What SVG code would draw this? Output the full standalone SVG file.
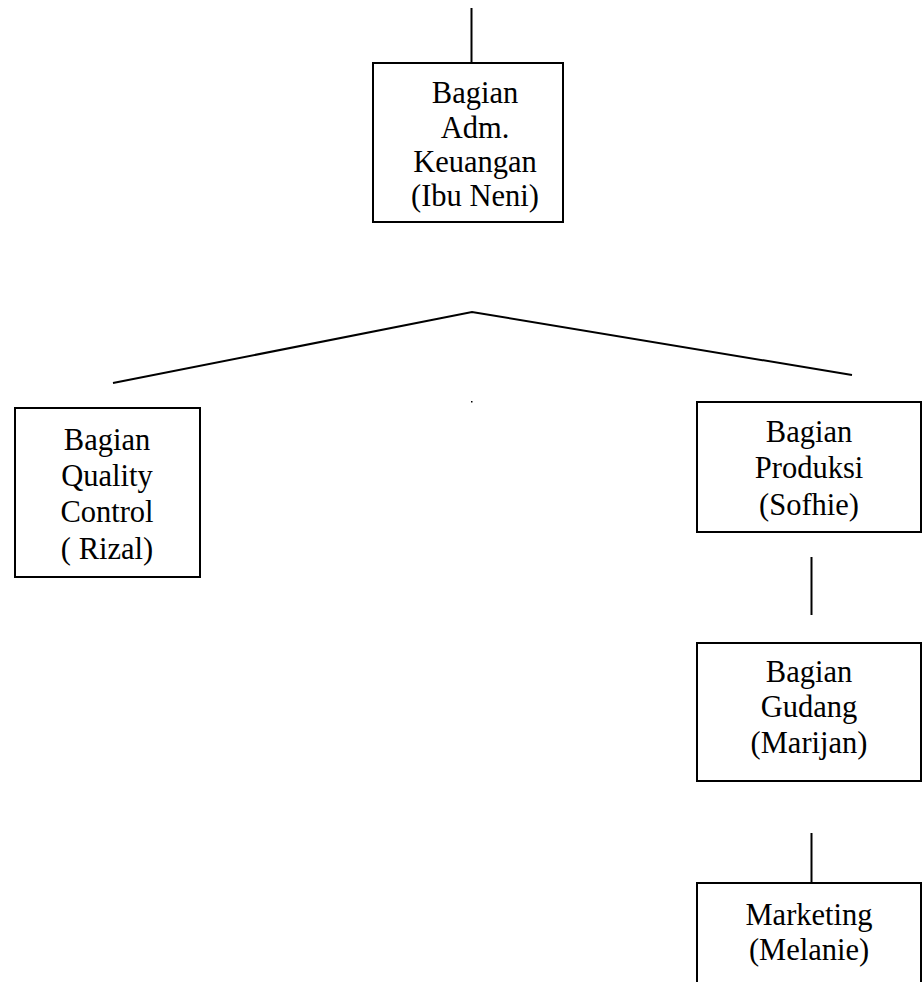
<svg xmlns="http://www.w3.org/2000/svg" width="922" height="982" viewBox="0 0 922 982">
<style>
.box{fill:#fff;stroke:#000;stroke-width:2}
.ln{stroke:#000;stroke-width:2;fill:none}
text{font-family:"Liberation Serif","Times New Roman",serif;font-size:30.5px;fill:#000;text-anchor:middle}
</style>
<rect width="922" height="982" fill="#fff"/>
<g id="connectors">
<line class="ln" x1="471.5" y1="8" x2="471.5" y2="63"/>
<polyline class="ln" points="113,383 472,312 852,375"/>
<rect x="471" y="401" width="1.5" height="1.5" fill="#000"/>
<line class="ln" x1="811.5" y1="557" x2="811.5" y2="615"/>
<line class="ln" x1="811.5" y1="833" x2="811.5" y2="883"/>
</g>
<g id="keuangan">
<rect class="box" x="373" y="63" width="190" height="159"/>
<text x="475" y="103">Bagian</text>
<text x="475" y="138">Adm.</text>
<text x="475" y="172">Keuangan</text>
<text x="475" y="206">(Ibu Neni)</text>
</g>
<g id="qc">
<rect class="box" x="15" y="408" width="185" height="169"/>
<text x="107" y="450">Bagian</text>
<text x="107" y="486">Quality</text>
<text x="107" y="522">Control</text>
<text x="107" y="559">( Rizal)</text>
</g>
<g id="produksi">
<rect class="box" x="697" y="402" width="224" height="130"/>
<text x="809" y="442">Bagian</text>
<text x="809" y="478">Produksi</text>
<text x="809" y="515">(Sofhie)</text>
</g>
<g id="gudang">
<rect class="box" x="697" y="643" width="224" height="138"/>
<text x="809" y="682">Bagian</text>
<text x="809" y="717">Gudang</text>
<text x="809" y="753">(Marijan)</text>
</g>
<g id="marketing">
<rect class="box" x="697" y="883" width="224" height="120"/>
<text x="809" y="925">Marketing</text>
<text x="809" y="960">(Melanie)</text>
</g>
</svg>
